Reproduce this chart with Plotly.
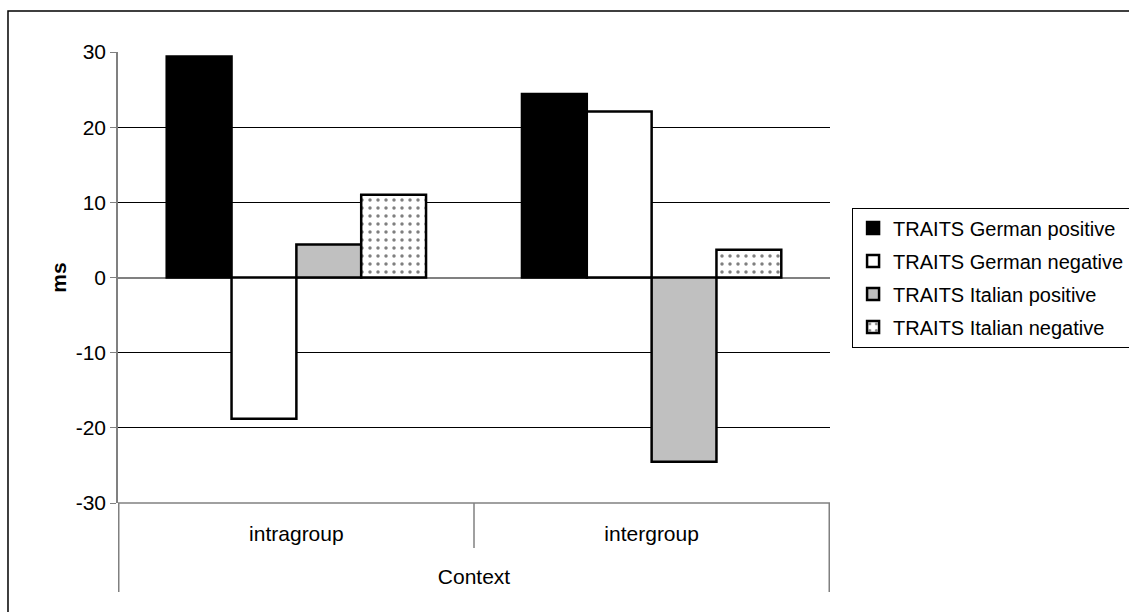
import plotly.graph_objects as go

contexts = ["intragroup", "intergroup"]
series_names = [
    "TRAITS German positive",
    "TRAITS German negative",
    "TRAITS Italian positive",
    "TRAITS Italian negative",
]
german_positive = [29.4, 24.4]
german_negative = [-18.8, 22.1]
italian_positive = [4.4, -24.5]
italian_negative = [11.0, 3.7]
y_ticks = [-30, -20, -10, 0, 10, 20, 30]
y_tick_labels = ["-30", "-20", "-10", "0", "10", "20", "30"]

FONT = "Liberation Sans, Arial, sans-serif"
AXIS_GRAY = "#808080"

fig = go.Figure()
styles = [
    dict(color="black", line=dict(color="black", width=2.5)),
    dict(color="white", line=dict(color="black", width=2.5)),
    dict(color="#c0c0c0", line=dict(color="black", width=2.5)),
    dict(color="white", line=dict(color="black", width=2.5),
         pattern=dict(shape=".", fgcolor="black", bgcolor="white", size=8, solidity=0.15)),
]
for i, (name, vals) in enumerate(zip(series_names,
                                     [german_positive, german_negative,
                                      italian_positive, italian_negative])):
    fig.add_trace(go.Bar(x=contexts, y=vals, name=name, marker=styles[i],
                         legendgroup=f"g{i}"))

fig.update_layout(
    width=1129, height=612,
    margin=dict(l=118, r=299, t=52, b=109, autoexpand=False),
    paper_bgcolor="white", plot_bgcolor="white",
    font=dict(family=FONT, size=21, color="black"),
    barmode="group", bargap=0.27, bargroupgap=0,
    showlegend=True,
    legend=dict(x=1.031, xanchor="left", y=0.655, yanchor="top",
                bordercolor="black", borderwidth=1, bgcolor="white",
                font=dict(size=20), tracegroupgap=4, itemwidth=30),
    xaxis=dict(
        showgrid=False, ticks="", showline=False, zeroline=False,
        ticklabelstandoff=16,
        title=dict(text="Context", standoff=25, font=dict(size=21)),
    ),
    yaxis=dict(
        range=[-30, 30], tickvals=y_ticks, ticktext=y_tick_labels,
        ticks="outside", ticklen=6,
        tickcolor=AXIS_GRAY, showgrid=True, gridcolor="black", gridwidth=1,
        zeroline=True, zerolinecolor=AXIS_GRAY, zerolinewidth=1.5,
        showline=True, linecolor=AXIS_GRAY, linewidth=1.5,
        title=dict(text="<b>ms</b>", standoff=3, font=dict(size=21)),
    ),
)

# category boundaries below the axis (short inner divider, long outer dividers)
for xb, length in [(-0.5, 89), (0.5, 45), (1.5, 89)]:
    fig.add_shape(type="line", xref="x", yref="paper", ysizemode="pixel",
                  yanchor=0, x0=xb, x1=xb, y0=0, y1=-length,
                  line=dict(color=AXIS_GRAY, width=1.5))
# bottom axis line at -30
fig.add_shape(type="line", xref="paper", yref="paper", x0=0, x1=1, y0=0, y1=0,
              line=dict(color=AXIS_GRAY, width=1.5))
# outer chart border
fig.add_shape(type="rect", xref="paper", yref="paper",
              x0=-0.1545, x1=1.43, y0=1.091, y1=-0.25,
              line=dict(color="black", width=1.5), layer="below")

fig.write_html("out.html", config={"displayModeBar": False},
               post_script="document.body.style.margin='0';document.body.style.overflow='hidden';")
